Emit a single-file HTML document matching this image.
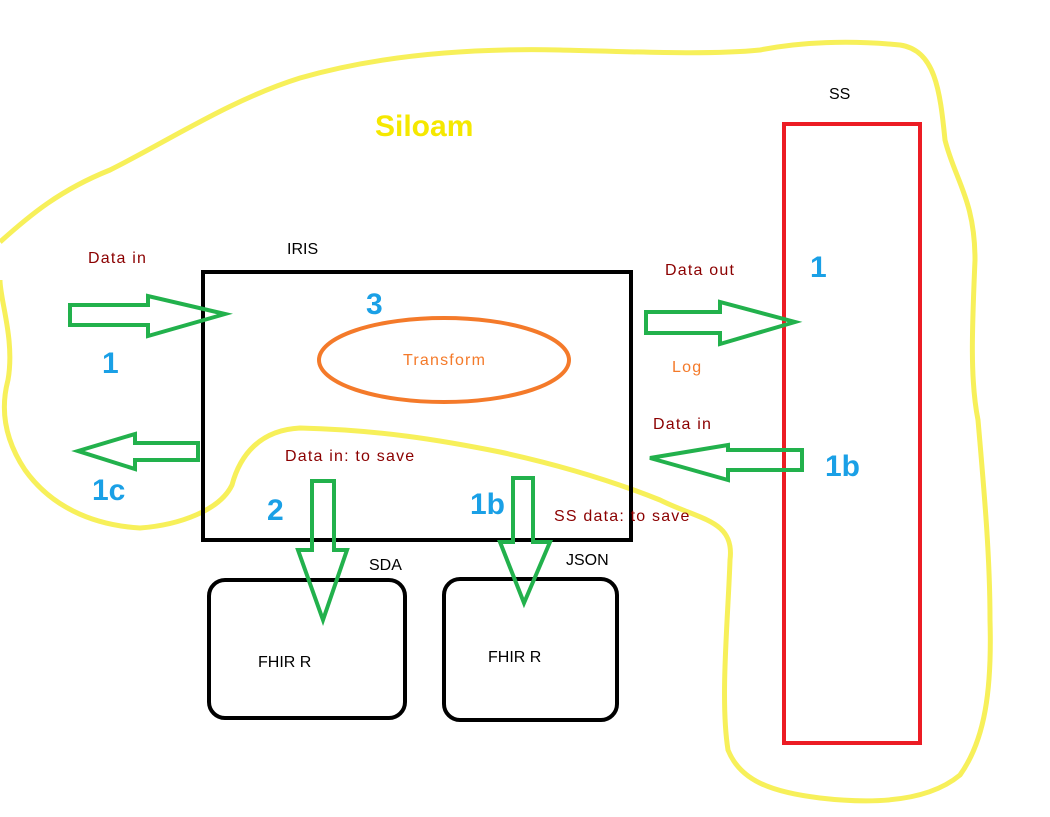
<!DOCTYPE html>
<html><head><style>
html,body{margin:0;padding:0;background:#fff;width:1050px;height:817px;overflow:hidden}
svg{display:block}
text{font-family:"Liberation Sans",sans-serif}
.l{letter-spacing:1.2px}
</style></head><body>
<svg width="1050" height="817" viewBox="0 0 1050 817" xmlns="http://www.w3.org/2000/svg">
<path d="M0,242 C30,215 60,190 110,170 C170,140 230,100 300,78 C380,55 470,48 560,50 C640,52 710,55 760,50 C800,42 850,40 900,45 C935,50 940,90 945,140 C955,180 975,200 975,260 C972,330 970,380 978,420 C985,500 990,560 990,620 C992,690 985,740 960,775 C930,800 880,805 820,798 C770,792 740,780 728,750 C720,700 728,620 730,560 C735,520 700,520 660,500 C610,480 560,465 500,452 C440,440 380,430 300,428 C260,430 240,455 232,485 C220,510 180,525 140,528 C90,525 50,505 25,470 C5,440 0,410 8,380 C15,340 0,300 0,280" fill="none" stroke="#f7f05a" stroke-width="5"/>
<text x="375" y="136" font-size="30" font-weight="bold" fill="#f5e800">Siloam</text>
<rect x="203" y="272" width="428" height="268" fill="none" stroke="#000" stroke-width="4"/>
<text x="287" y="254" font-size="16" fill="#000">IRIS</text>
<ellipse cx="444" cy="360" rx="125" ry="42" fill="none" stroke="#f47a2a" stroke-width="4"/>
<text class="l" x="403" y="365" font-size="16" fill="#f47a2a">Transform</text>
<text x="366" y="314" font-size="30" font-weight="bold" fill="#1aa0e6">3</text>
<rect x="784" y="124" width="136" height="619" fill="none" stroke="#ec1c24" stroke-width="4"/>
<text x="829" y="99" font-size="16" fill="#000">SS</text>
<text x="810" y="277" font-size="30" font-weight="bold" fill="#1aa0e6">1</text>
<text x="825" y="476" font-size="30" font-weight="bold" fill="#1aa0e6">1b</text>
<rect x="209" y="580" width="196" height="138" rx="16" fill="none" stroke="#000" stroke-width="4"/>
<rect x="444" y="579" width="173" height="141" rx="16" fill="none" stroke="#000" stroke-width="4"/>
<text x="258" y="667" font-size="16" fill="#000">FHIR R</text>
<text x="488" y="662" font-size="16" fill="#000">FHIR R</text>
<text x="369" y="570" font-size="16" fill="#000">SDA</text>
<text x="566" y="565" font-size="16" fill="#000">JSON</text>
<text class="l" x="88" y="263" font-size="16" fill="#8b0000">Data in</text>
<text x="102" y="373" font-size="30" font-weight="bold" fill="#1aa0e6">1</text>
<text x="92" y="500" font-size="30" font-weight="bold" fill="#1aa0e6">1c</text>
<text class="l" x="665" y="275" font-size="16" fill="#8b0000">Data out</text>
<text class="l" x="672" y="372" font-size="16" fill="#f47a2a">Log</text>
<text class="l" x="653" y="429" font-size="16" fill="#8b0000">Data in</text>
<text class="l" x="285" y="461" font-size="16" fill="#8b0000">Data in: to save</text>
<text class="l" x="554" y="521" font-size="16" fill="#8b0000">SS data: to save</text>
<text x="267" y="520" font-size="30" font-weight="bold" fill="#1aa0e6">2</text>
<text x="470" y="514" font-size="30" font-weight="bold" fill="#1aa0e6">1b</text>
<g fill="none" stroke="#22b14c" stroke-width="4" stroke-linejoin="miter">
<polygon points="70,305 148,305 148,296 225,314 148,336 148,325 70,325"/>
<polygon points="646,312 720,312 720,302 795,322 720,344 720,333 646,333"/>
<polygon points="198,443 135,443 135,434 78,451 135,469 135,460 198,460"/>
<polygon points="802,450 728,450 728,445 650,458 728,480 728,470 802,470"/>
<polygon points="312,481 334,481 334,550 347,550 323,620 298,550 312,550"/>
<polygon points="513,478 533,478 533,542 550,542 524,603 500,542 513,542"/>
</g>
</svg>
</body></html>
